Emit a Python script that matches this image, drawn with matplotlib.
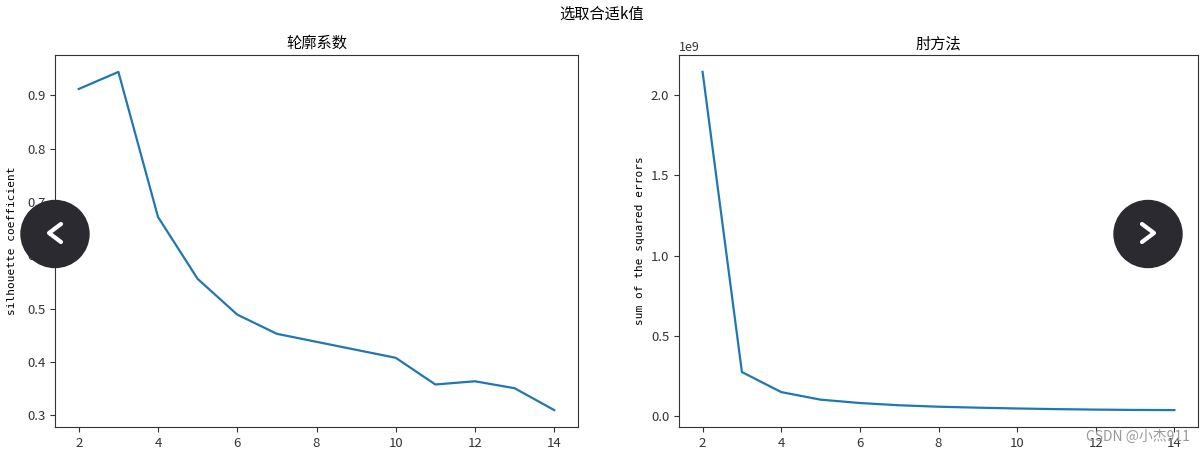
import matplotlib
matplotlib.use("Agg")
import matplotlib.pyplot as plt
from matplotlib.patches import Ellipse
from matplotlib.lines import Line2D

plt.rcParams["font.family"] = ["Noto Sans CJK SC", "DejaVu Sans"]
plt.rcParams["axes.unicode_minus"] = False

k_values = list(range(2, 15))
silhouette = [0.912, 0.944, 0.672, 0.556, 0.489, 0.453, 0.438, 0.423, 0.408,
              0.358, 0.364, 0.351, 0.310]
sse = [2.145e9, 0.276e9, 0.151e9, 0.104e9, 0.083e9, 0.069e9, 0.060e9,
       0.054e9, 0.049e9, 0.045e9, 0.042e9, 0.040e9, 0.039e9]

W, H = 1204, 453
fig = plt.figure(figsize=(W / 100, H / 100), dpi=100)

ax1 = fig.add_axes([55 / W, 26 / H, 523 / W, 372 / H])
ax2 = fig.add_axes([679 / W, 26 / H, 519 / W, 372 / H])

for ax in (ax1, ax2):
    for s in ax.spines.values():
        s.set_color("#333333")
    ax.tick_params(labelsize=9.5, colors="#333333")

ax1.plot(k_values, silhouette, color="#1f77b4", lw=1.6)
ax1.set_xticks([2, 4, 6, 8, 10, 12, 14])
ax1.set_yticks([0.3, 0.4, 0.5, 0.6, 0.7, 0.8, 0.9])
ax1.set_title("轮廓系数", fontsize=11, pad=5, weight="medium")
ax1.set_ylabel("silhouette coefficient", family="DejaVu Sans Mono", fontsize=8,
               labelpad=7)

ax2.plot(k_values, sse, color="#1f77b4", lw=1.6)
ax2.set_xticks([2, 4, 6, 8, 10, 12, 14])
ax2.set_yticks([0, 0.5e9, 1.0e9, 1.5e9, 2.0e9])
ax2.set_title("肘方法", fontsize=11, pad=5, weight="medium")
ax2.set_ylabel("sum of the squared errors", family="DejaVu Sans Mono", fontsize=8)
ax2.yaxis.get_offset_text().set_fontsize(9)

fig.suptitle("选取合适k值", fontsize=11, y=1 - 14 / H, va="center", weight="medium")

# page overlay: carousel buttons and watermark
for cx, d in ((55, 1), (1148, -1)):
    fig.patches.append(Ellipse((cx / W, 1 - 234 / H), 68 / W, 67 / H,
                               transform=fig.transFigure, color="#2a2a30",
                               zorder=10))
    xs = [(cx + 6 * d) / W, (cx - 6 * d) / W, (cx + 6 * d) / W]
    ys = [1 - 224 / H, 1 - 233 / H, 1 - 242 / H]
    fig.lines.append(Line2D(xs, ys, transform=fig.transFigure, color="white",
                            lw=3, solid_capstyle="round",
                            solid_joinstyle="round", zorder=11))
fig.text(1190 / W, 1 - 437 / H, "CSDN @小杰911", color="#999999", fontsize=10,
         ha="right", va="center", zorder=11)

fig.savefig("out.png", dpi=100)
